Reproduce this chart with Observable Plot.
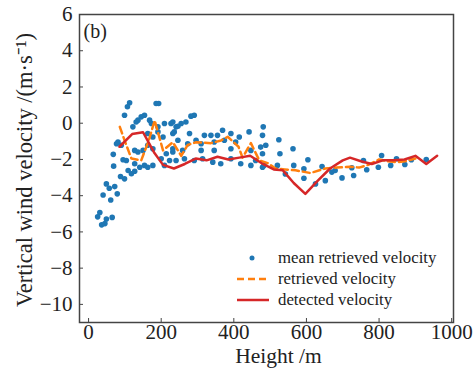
<!DOCTYPE html>
<html>
<head>
<meta charset="utf-8">
<script src="https://cdn.jsdelivr.net/npm/d3@7"></script>
<script src="https://cdn.jsdelivr.net/npm/@observablehq/plot@0.6"></script>
<style>
  body { margin: 0; background: #fff; }
  #wrap { position: relative; width: 473px; height: 372px; font-family: "Liberation Serif", serif; }
  #legend { position: absolute; left: 236px; top: 247px; font-size: 16.8px; color: #222; }
  .row { display: flex; align-items: center; height: 21px; }
  .sw { width: 34px; height: 10px; margin-right: 8px; }
  #ylabel { position: absolute; left: 25px; top: 170px; transform: translate(-50%, -50%) rotate(-90deg);
            white-space: nowrap; font-size: 22.5px; color: #222; line-height: 1; }
</style>
</head>
<body>
<div id="wrap"></div>
<script>
const xTicks = [0, 200, 400, 600, 800, 1000];
const yTicks = [-10, -8, -6, -4, -2, 0, 2, 4, 6];
const xLabel = "Height /m";
const yLabel = "Vertical wind velocity /(m·s⁻¹)";
const panelLabel = "(b)";

const meanH = [68,95,69,118,127,88,99,49,72,57,79,40,61,31,25,49,65,45,36,
  113,107,99,193,186,154,145,136,131,168,173,122,191,209,227,241,77,81,90,163,177,127,136,150,104,127,141,154,163,177,209,223,200,214,232,109,163,177,191,205,232,
  291,282,232,255,268,246,236,278,319,337,355,369,392,415,442,479,246,273,296,310,346,374,405,232,259,310,346,392,447,474,241,264,291,314,342,364,392,419,447,460,
  481,488,524,527,563,479,483,520,565,604,593,593,625,652,698,730,643,670,679,725,757,766,798,807,832,848,871,889,930,479,542];
const meanV = [-1.72,-2.02,-2.37,-2.79,-2.65,-2.94,-3.07,-3.35,-3.5,-3.59,-3.9,-3.96,-4.24,-4.93,-5.17,-5.29,-5.2,-5.54,-5.61,
  1.13,0.91,0.44,1.09,1.09,0.44,0.35,0.17,0.07,0.17,-0.02,-0.2,-0.2,-0.02,-0.02,-0.2,-1.13,-1.04,-1.22,-0.57,-0.76,-1.5,-1.59,-1.5,-2.06,-2.24,-2.43,-2.33,-2.43,-2.33,-2.33,-2.06,-1.96,-1.69,-1.59,-2.61,-1.22,-1.41,-0.48,-0.76,-0.57,
  0.44,0.39,0.07,-0.02,0.07,-0.17,-0.48,-0.57,-0.67,-0.67,-0.67,-0.39,-0.57,-0.76,-0.48,-0.67,-0.94,-1.13,-0.94,-1.13,-1.04,-0.94,-1.04,-1.41,-1.5,-1.5,-1.5,-1.41,-1.5,-1.32,-2.06,-1.96,-2.06,-1.96,-2.15,-2.24,-1.96,-2.24,-2.33,-2.06,
  -0.2,-1.22,-0.91,-1.69,-1.41,-1.69,-2.33,-2.33,-2.33,-2.02,-2.52,-3.04,-3.35,-3.17,-3.02,-2.89,-2.39,-2.7,-2.61,-2.46,-2.06,-2.57,-2.43,-1.78,-2.33,-1.96,-2.28,-2.02,-2.0,-2.43,-2.8];

const retrH = [86,100,118,145,165,182,205,232,255,273,296,337,365,383,413,424,447,470,493,515,540,570,611,652,684,720,745,770,800,822,850,871,900];
const retrV = [-0.2,-1.0,-1.95,-2.05,-1.0,0.15,-1.5,-1.05,-1.8,-1.2,-1.05,-1.1,-0.95,-0.75,-1.3,-1.9,-1.1,-2.05,-2.2,-2.5,-2.55,-2.6,-2.75,-2.5,-2.45,-2.4,-2.45,-2.3,-2.0,-2.1,-2.15,-2.1,-1.95];

const detH = [85,120,150,180,205,235,265,295,325,355,385,415,445,480,510,535,565,597,630,665,700,720,750,780,810,840,870,900,930,960];
const detV = [-1.3,-0.6,-0.5,-1.6,-2.3,-2.5,-2.25,-1.95,-2.05,-1.85,-2.0,-1.9,-1.8,-2.25,-2.55,-2.6,-3.3,-3.9,-3.2,-2.5,-2.05,-1.9,-2.1,-2.25,-2.05,-2.05,-2.0,-1.8,-2.25,-1.8];

const mean = meanH.map((h, i) => ({h, v: meanV[i]}));
const retr = retrH.map((h, i) => ({h, v: retrV[i]}));
const det = detH.map((h, i) => ({h, v: detV[i]}));

const blue = "#1f77b4", orange = "#ff7f0e", red = "#d62728";

const chart = Plot.plot({
  width: 473,
  height: 372,
  marginLeft: 79,
  marginRight: 20,
  marginTop: 14,
  marginBottom: 50,
  style: {fontFamily: "Liberation Serif, serif", fontSize: "21px", color: "#222", background: "#fff"},
  x: {domain: [-25, 1005]},
  y: {domain: [-11, 6]},
  marks: [
    Plot.dot(mean, {x: "h", y: "v", r: 2.8, fill: blue}),
    Plot.line(retr, {x: "h", y: "v", stroke: orange, strokeWidth: 2.5, strokeDasharray: "7,4"}),
    Plot.line(det, {x: "h", y: "v", stroke: red, strokeWidth: 2.5}),
    Plot.frame({stroke: "#444", strokeWidth: 1.5}),
    Plot.axisX(xTicks, {tickSize: -4, tickPadding: 6, tickFormat: d => String(d), label: null, stroke: "#444"}),
    Plot.axisY(yTicks, {tickSize: -4, tickPadding: 11, label: null, stroke: "#444"}),
    Plot.text([xLabel], {frameAnchor: "bottom", dy: 40, dx: 12, fontSize: 21.5, fill: "#222"}),
    Plot.text([panelLabel], {frameAnchor: "top-left", textAnchor: "start", dx: 4, dy: 9, fontSize: 20, fill: "#222"})
  ]
});

const wrap = document.getElementById("wrap");
wrap.appendChild(chart);

const yl = document.createElement("div");
yl.id = "ylabel";
yl.textContent = yLabel;
wrap.appendChild(yl);

const items = [
  {label: "mean retrieved velocity", kind: "dot", color: blue},
  {label: "retrieved velocity", kind: "dash", color: orange},
  {label: "detected velocity", kind: "line", color: red}
];
const legend = document.createElement("div");
legend.id = "legend";
for (const it of items) {
  const row = document.createElement("div");
  row.className = "row";
  const ns = "http://www.w3.org/2000/svg";
  const sw = document.createElementNS(ns, "svg");
  sw.setAttribute("class", "sw");
  sw.setAttribute("width", 34); sw.setAttribute("height", 10);
  if (it.kind === "dot") {
    const c = document.createElementNS(ns, "circle");
    c.setAttribute("cx", 16); c.setAttribute("cy", 5); c.setAttribute("r", 2.5);
    c.setAttribute("fill", it.color);
    sw.appendChild(c);
  } else {
    const l = document.createElementNS(ns, "line");
    l.setAttribute("x1", 1); l.setAttribute("x2", 33); l.setAttribute("y1", 5); l.setAttribute("y2", 5);
    l.setAttribute("stroke", it.color); l.setAttribute("stroke-width", 2.5);
    if (it.kind === "dash") l.setAttribute("stroke-dasharray", "7,4");
    sw.appendChild(l);
  }
  row.appendChild(sw);
  const t = document.createElement("span");
  t.textContent = it.label;
  row.appendChild(t);
  legend.appendChild(row);
}
wrap.appendChild(legend);
</script>
</body>
</html>
